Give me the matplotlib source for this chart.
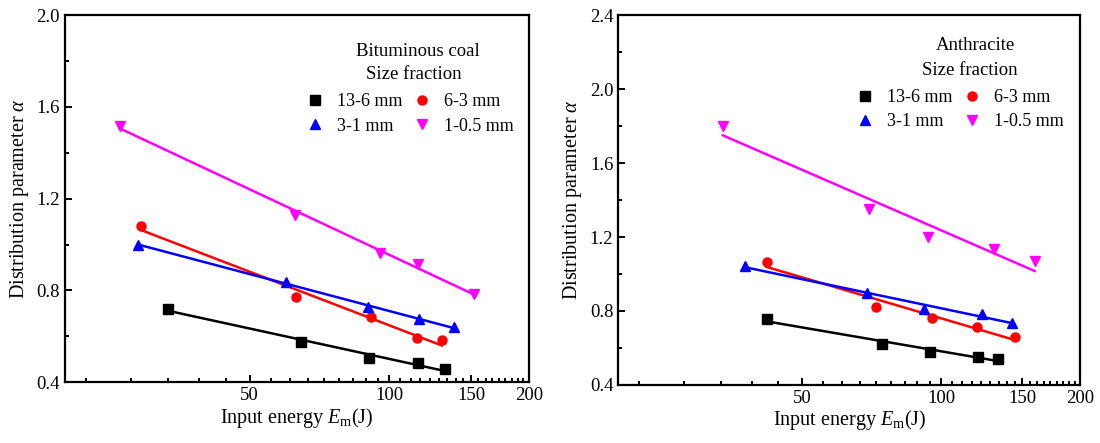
import numpy as np
import matplotlib
matplotlib.use("Agg")
import matplotlib.pyplot as plt
from matplotlib.ticker import FixedLocator, FixedFormatter, MultipleLocator, FormatStrFormatter

plt.rcParams["font.family"] = ["Liberation Serif", "DejaVu Serif"]
plt.rcParams["mathtext.fontset"] = "custom"
plt.rcParams["mathtext.rm"] = "Liberation Serif"
plt.rcParams["mathtext.it"] = "Liberation Serif:italic"

# 粒度区分
LABELS = ["13-6 mm", "6-3 mm", "3-1 mm", "1-0.5 mm"]

# 瀝青炭 (Bituminous coal): 入力エネルギー Em [J] と分布パラメータ α
bit_em = [
    [33.3, 64.4, 90.6, 115.3, 131.5],
    [29.1, 62.8, 91.4, 114.7, 129.8],
    [28.7, 60.0, 89.8, 116.0, 137.5],
    [26.3, 62.6, 95.6, 115.3, 151.9],
]
bit_alpha = [
    [0.720, 0.576, 0.508, 0.482, 0.457],
    [1.081, 0.770, 0.683, 0.593, 0.583],
    [0.998, 0.838, 0.729, 0.674, 0.639],
    [1.515, 1.129, 0.965, 0.915, 0.784],
]

# 無煙炭 (Anthracite)
ant_em = [
    [41.9, 74.4, 94.5, 120.2, 132.8],
    [41.9, 72.4, 95.7, 119.4, 144.3],
    [37.6, 69.2, 91.8, 122.4, 142.6],
    [33.7, 69.8, 93.8, 130.2, 159.4],
]
ant_alpha = [
    [0.755, 0.622, 0.580, 0.553, 0.541],
    [1.063, 0.823, 0.764, 0.712, 0.661],
    [1.043, 0.899, 0.809, 0.784, 0.737],
    [1.800, 1.350, 1.198, 1.133, 1.069],
]

COLORS = ["black", "#ff0000", "#0000ff", "#ff00ff"]
MARKERS = ["s", "o", "^", "v"]


def draw_panel(ax, em, alpha, title, ymax, tpos, lpos):
    handles = []
    for k in range(4):
        x = np.asarray(em[k])
        y = np.asarray(alpha[k])
        # 片対数での直線回帰
        b, a = np.polyfit(np.log10(x), y, 1)
        xf = np.array([x.min(), x.max()])
        ax.plot(xf, a + b * np.log10(xf), color=COLORS[k], lw=1.8, zorder=2)
        h, = ax.plot(x, y, ls="none", marker=MARKERS[k], color=COLORS[k],
                     ms=6.5, zorder=3, label=LABELS[k])
        handles.append(h)

    ax.set_xscale("log")
    ax.set_xlim(20, 200)
    ax.set_ylim(0.4, ymax)
    ax.xaxis.set_major_locator(FixedLocator([50, 100, 150, 200]))
    ax.xaxis.set_major_formatter(FixedFormatter(["50", "100", "150", "200"]))
    minors = [v for v in np.arange(0, 200, 50 / 9) if v > 20 and
              min(abs(v - m) for m in (50, 100, 150, 200)) > 1]
    ax.xaxis.set_minor_locator(FixedLocator(minors))
    ax.xaxis.set_minor_formatter(FixedFormatter([""] * len(minors)))
    ax.yaxis.set_major_locator(MultipleLocator(0.4))
    ax.yaxis.set_minor_locator(MultipleLocator(0.2))
    ax.yaxis.set_major_formatter(FormatStrFormatter("%.1f"))
    ax.tick_params(which="both", direction="in", top=False, right=False,
                   labelsize=13.5, width=1.4)
    ax.tick_params(which="major", length=5)
    ax.tick_params(which="minor", length=3)
    for s in ax.spines.values():
        s.set_linewidth(1.6)

    ax.set_xlabel(r"Input energy $E_\mathrm{m}$(J)", fontsize=14.5, labelpad=1)
    ax.set_ylabel(r"Distribution parameter $\alpha$", fontsize=14.5, labelpad=4)

    # 凡例の見出し
    ax.text(tpos[0], tpos[1], title, transform=ax.transAxes,
            ha="center", va="center", fontsize=13.5)
    ax.text(tpos[2], tpos[3], "Size fraction", transform=ax.transAxes,
            ha="center", va="center", fontsize=13.5)
    order = [0, 2, 1, 3]   # 行方向: 13-6, 6-3 / 3-1, 1-0.5
    ax.legend(handles=[handles[i] for i in order], ncol=2, frameon=False,
              loc="upper right", bbox_to_anchor=lpos,
              fontsize=13, handlelength=1.0, handletextpad=0.7,
              columnspacing=0.6, labelspacing=0.4,
              borderaxespad=0.0, borderpad=0.0)


fig = plt.figure(figsize=(11, 4.43), dpi=100)
ax1 = fig.add_axes([0.059, 0.137, 0.422, 0.829])
ax2 = fig.add_axes([0.562, 0.131, 0.420, 0.835])
draw_panel(ax1, bit_em, bit_alpha, "Bituminous coal", 2.0,
           (0.761, 0.902, 0.752, 0.837), (0.966, 0.787))
draw_panel(ax2, ant_em, ant_alpha, "Anthracite", 2.4,
           (0.773, 0.919, 0.760, 0.851), (0.964, 0.800))

fig.savefig("out.png", dpi=100)
